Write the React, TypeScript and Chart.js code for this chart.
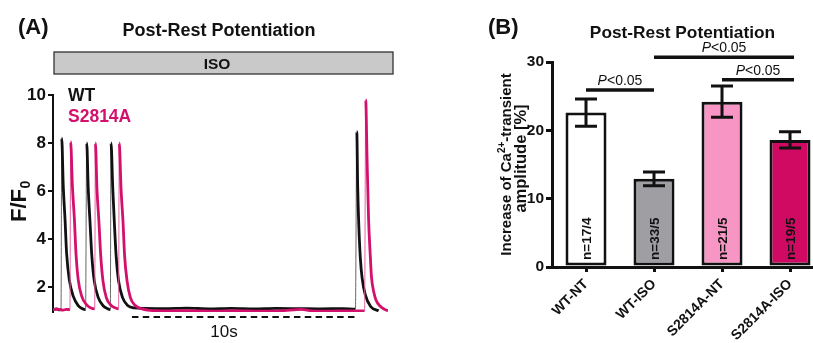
import React, { useEffect, useRef } from 'react';
import { Chart, registerables } from 'chart.js';

Chart.register(...registerables);

const FONT = "'Liberation Sans', Arial, Helvetica, sans-serif";
const MAGENTA = '#d3116c';

// ---------- Panel A: Ca2+ transients (time in s, F/F0) ----------
const WT_TIME = [
  0, 0.15, 0.3, 0.36,
  0.39, 0.46, 0.54, 0.61, 0.73, 0.91, 1.13, 1.3, 1.46,
  1.51, 1.58, 1.66, 1.74, 1.85, 2.03, 2.26, 2.42, 2.57,
  2.6, 2.68, 2.75, 2.83, 2.94, 3.12, 3.35, 3.65, 4.13,
  5.0, 6.0, 7.0, 8.0, 9.0, 10.0, 11.0, 12.0, 13.0, 13.56,
  13.62, 13.66, 13.71, 13.78, 13.86, 14.0, 14.24, 14.6,
];
const WT_RATIO = [
  1.05, 1.08, 1.04, 1.05,
  8.2, 6.2, 4.8, 3.4, 2.3, 1.6, 1.22, 1.1, 1.05,
  8.0, 6.1, 4.7, 3.3, 2.25, 1.55, 1.2, 1.1, 1.05,
  8.0, 6.1, 4.7, 3.3, 2.25, 1.55, 1.22, 1.12, 1.1,
  1.09, 1.11, 1.08, 1.1, 1.08, 1.1, 1.09, 1.08, 1.09, 1.07,
  8.47, 6.2, 4.6, 3.2, 2.36, 1.67, 1.18, 1.0,
];
const S2814A_TIME = [
  0, 0.2, 0.45, 0.6, 0.76,
  0.79, 0.87, 0.96, 1.03, 1.13, 1.29, 1.51, 1.7, 1.87,
  1.9, 1.97, 2.06, 2.14, 2.24, 2.39, 2.61, 2.8, 2.94,
  2.97, 3.05, 3.14, 3.21, 3.32, 3.47, 3.69, 3.99, 4.35,
  5.2, 6.2, 7.2, 8.2, 9.2, 10.2, 11.15, 11.6, 12.4, 13.2, 13.97,
  14.02, 14.08, 14.15, 14.22, 14.28, 14.39, 14.48, 14.66, 14.89, 15.02,
];
const S2814A_RATIO = [
  1.05, 1.07, 1.03, 1.06, 1.05,
  8.05, 6.2, 4.8, 3.4, 2.3, 1.6, 1.25, 1.12, 1.08,
  8.0, 6.1, 4.7, 3.3, 2.25, 1.55, 1.22, 1.12, 1.08,
  8.0, 6.1, 4.7, 3.3, 2.25, 1.55, 1.22, 1.08, 1.02,
  1.0, 1.01, 0.99, 1.01, 0.99, 1.0, 1.06, 1.0, 0.99, 1.0, 1.0,
  9.8, 7.4, 4.8, 3.4, 2.4, 1.75, 1.45, 1.2, 1.05, 1.0,
];
const A_Y_TICKS = [2, 4, 6, 8, 10];
const A_Y_MIN = 0.95;
const A_Y_MAX = 10;
const A_X_MAX = 15.02;
const SCALE_BAR_START = 3.54;
const SCALE_BAR_SECONDS = 10;

// ---------- Panel B: bar chart ----------
const GROUPS = ['WT-NT', 'WT-ISO', 'S2814A-NT', 'S2814A-ISO'];
const MEANS = [22.6, 12.9, 24.2, 18.6];
const SEMS = [2.0, 1.0, 2.3, 1.2];
const N_LABELS = ['n=17/4', 'n=33/5', 'n=21/5', 'n=19/5'];
const BAR_COLORS = ['#ffffff', '#9f9ea3', '#f796c4', '#d00a62'];
const B_Y_TICKS = [0, 10, 20, 30];
const SIG_FROM = [0, 1, 2];
const SIG_TO = [1, 3, 3];
const SIG_LEVEL = [25.9, 30.7, 27.4];

const toPoints = (xs: number[], ys: number[]) => xs.map((x, i) => ({ x, y: ys[i] }));

const panelAPlugin = {
  id: 'panelA',
  afterDraw(chart: any) {
    const { ctx, chartArea } = chart;
    const xs = chart.scales.x;
    ctx.save();
    ctx.fillStyle = '#111';
    ctx.textBaseline = 'alphabetic';
    ctx.textAlign = 'left';
    ctx.font = `bold 22px ${FONT}`;
    ctx.fillText('(A)', 18, 34);
    ctx.textAlign = 'center';
    ctx.font = `bold 18px ${FONT}`;
    ctx.fillText('Post-Rest Potentiation', 219, 36);
    // ISO box
    ctx.fillStyle = '#c9c9c9';
    ctx.fillRect(54, 52, 339, 22);
    ctx.lineWidth = 1.3;
    ctx.strokeStyle = '#333';
    ctx.strokeRect(54, 52, 339, 22);
    ctx.fillStyle = '#111';
    ctx.font = `bold 15.5px ${FONT}`;
    ctx.fillText('ISO', 217, 69);
    // legend
    ctx.textAlign = 'left';
    ctx.font = `bold 17.5px ${FONT}`;
    ctx.fillText('WT', 68, 101);
    ctx.fillStyle = MAGENTA;
    ctx.fillText('S2814A', 68, 121.5);
    // y title F/F0
    ctx.save();
    ctx.translate(25.5, 222);
    ctx.rotate(-Math.PI / 2);
    ctx.fillStyle = '#111';
    ctx.font = `bold 22px ${FONT}`;
    ctx.fillText('F/F', 0, 0);
    const w = ctx.measureText('F/F').width;
    ctx.font = `bold 14px ${FONT}`;
    ctx.fillText('0', w + 0.5, 4);
    ctx.restore();
    // scale bar
    const x1 = xs.getPixelForValue(SCALE_BAR_START);
    const x2 = xs.getPixelForValue(SCALE_BAR_START + SCALE_BAR_SECONDS);
    const yb = chartArea.bottom + 5;
    ctx.setLineDash([6.5, 4.3]);
    ctx.lineWidth = 2;
    ctx.strokeStyle = '#111';
    ctx.beginPath();
    ctx.moveTo(x1, yb);
    ctx.lineTo(x2, yb);
    ctx.stroke();
    ctx.setLineDash([]);
    ctx.fillStyle = '#111';
    ctx.textAlign = 'center';
    ctx.font = `17px ${FONT}`;
    ctx.fillText('10s', 224, 337);
    ctx.restore();
  },
};

function drawRuns(ctx: any, runs: [string, number, number][], cx: number, cy: number) {
  let total = 0;
  runs.forEach(([t, size]) => {
    ctx.font = `bold ${size}px ${FONT}`;
    total += ctx.measureText(t).width;
  });
  ctx.save();
  ctx.translate(cx, cy);
  ctx.rotate(-Math.PI / 2);
  let x = -total / 2;
  runs.forEach(([t, size, dy]) => {
    ctx.font = `bold ${size}px ${FONT}`;
    ctx.fillText(t, x, dy);
    x += ctx.measureText(t).width;
  });
  ctx.restore();
}

const panelBPlugin = {
  id: 'panelB',
  afterDatasetsDraw(chart: any) {
    const { ctx } = chart;
    const xs = chart.scales.x;
    const ys = chart.scales.y;
    ctx.save();
    ctx.fillStyle = '#111';
    ctx.font = `bold 13.5px ${FONT}`;
    ctx.textAlign = 'left';
    ctx.textBaseline = 'middle';
    N_LABELS.forEach((lab, i) => {
      const px = xs.getPixelForValue(i);
      ctx.save();
      ctx.translate(px + 1, ys.getPixelForValue(0) - 7);
      ctx.rotate(-Math.PI / 2);
      ctx.fillText(lab, 0, 0);
      ctx.restore();
    });
    ctx.strokeStyle = '#111';
    ctx.lineWidth = 3;
    MEANS.forEach((m, i) => {
      const px = xs.getPixelForValue(i);
      const yt = ys.getPixelForValue(m + SEMS[i]);
      const yb = ys.getPixelForValue(m - SEMS[i]);
      ctx.beginPath();
      ctx.moveTo(px, yt);
      ctx.lineTo(px, yb);
      ctx.moveTo(px - 11, yt);
      ctx.lineTo(px + 11, yt);
      ctx.moveTo(px - 11, yb);
      ctx.lineTo(px + 11, yb);
      ctx.stroke();
    });
    ctx.restore();
  },
  afterDraw(chart: any) {
    const { ctx } = chart;
    const xs = chart.scales.x;
    const ys = chart.scales.y;
    ctx.save();
    ctx.fillStyle = '#111';
    ctx.textBaseline = 'alphabetic';
    ctx.textAlign = 'left';
    ctx.font = `bold 22px ${FONT}`;
    ctx.fillText('(B)', 28, 34);
    ctx.textAlign = 'center';
    ctx.font = `bold 17.3px ${FONT}`;
    ctx.fillText('Post-Rest Potentiation', 222.5, 38);
    // significance bars
    ctx.strokeStyle = '#111';
    ctx.lineWidth = 3.5;
    SIG_FROM.forEach((from, k) => {
      const xa = xs.getPixelForValue(from);
      const xb = xs.getPixelForValue(SIG_TO[k]) + (SIG_TO[k] === 3 ? 4 : 0);
      const yy = ys.getPixelForValue(SIG_LEVEL[k]);
      ctx.beginPath();
      ctx.moveTo(xa, yy);
      ctx.lineTo(xb, yy);
      ctx.stroke();
      const mid = (xa + xb) / 2;
      ctx.font = `italic 14px ${FONT}`;
      const wp = ctx.measureText('P').width;
      ctx.font = `14px ${FONT}`;
      const wr = ctx.measureText('<0.05').width;
      const start = mid - (wp + wr) / 2;
      ctx.textAlign = 'left';
      ctx.font = `italic 14px ${FONT}`;
      ctx.fillText('P', start, yy - 5);
      ctx.font = `14px ${FONT}`;
      ctx.fillText('<0.05', start + wp, yy - 5);
    });
    // y title
    ctx.textAlign = 'left';
    const cy = (chart.chartArea.top + chart.chartArea.bottom) / 2;
    drawRuns(ctx, [['Increase of Ca', 15, 0], ['2+', 10, -6], ['-transient', 15, 0]], 51, cy);
    drawRuns(ctx, [['amplitude [%]', 16.5, 0]], 65.5, cy - 6);
    ctx.restore();
  },
};

export default function App() {
  const refA = useRef<HTMLCanvasElement>(null);
  const refB = useRef<HTMLCanvasElement>(null);

  useEffect(() => {
    const lw = 2.8;
    const chartA = new Chart(refA.current as HTMLCanvasElement, {
      type: 'line',
      data: {
        datasets: [
          {
            label: 'S2814A',
            data: toPoints(S2814A_TIME, S2814A_RATIO),
            borderColor: MAGENTA,
            borderWidth: lw,
            pointRadius: 0,
            cubicInterpolationMode: 'monotone',
            segment: {
              borderWidth: (c: any) => (c.p1.parsed.y - c.p0.parsed.y > 3 ? 1 : lw),
              borderColor: (c: any) => (c.p1.parsed.y - c.p0.parsed.y > 3 ? '#e3629f' : MAGENTA),
            },
          },
          {
            label: 'WT',
            data: toPoints(WT_TIME, WT_RATIO),
            borderColor: '#111111',
            borderWidth: lw,
            pointRadius: 0,
            cubicInterpolationMode: 'monotone',
            segment: {
              borderWidth: (c: any) => (c.p1.parsed.y - c.p0.parsed.y > 3 ? 1 : lw),
              borderColor: (c: any) => (c.p1.parsed.y - c.p0.parsed.y > 3 ? '#666666' : '#111111'),
            },
          },
        ],
      },
      options: {
        animation: false,
        responsive: false,
        events: [],
        layout: { padding: { left: 0, top: 95, right: 72, bottom: 31 } },
        plugins: { legend: { display: false }, tooltip: { enabled: false }, title: { display: false } },
        scales: {
          x: { type: 'linear', display: false, min: 0, max: A_X_MAX },
          y: {
            type: 'linear',
            min: A_Y_MIN,
            max: A_Y_MAX,
            afterFit: (s: any) => { s.width = 53; },
            afterBuildTicks: (s: any) => { s.ticks = A_Y_TICKS.map((v) => ({ value: v })); },
            grid: { drawOnChartArea: false, drawTicks: true, tickLength: 5, lineWidth: 2, color: '#111' },
            border: { display: true, width: 2, color: '#111' },
            ticks: { color: '#111', padding: 2, font: { family: FONT, size: 17, weight: 'bold' } },
          },
        },
      },
      plugins: [panelAPlugin],
    } as any);

    const chartB = new Chart(refB.current as HTMLCanvasElement, {
      type: 'bar',
      data: {
        datasets: [
          {
            data: MEANS.map((m, i) => ({ x: i, y: m })),
            backgroundColor: BAR_COLORS,
            borderColor: '#111',
            borderWidth: 3,
            borderSkipped: false,
            categoryPercentage: 1,
            barPercentage: 0.603,
          },
        ],
      },
      options: {
        animation: false,
        responsive: false,
        events: [],
        layout: { padding: { left: 0, top: 62, right: 0, bottom: 0 } },
        plugins: { legend: { display: false }, tooltip: { enabled: false }, title: { display: false } },
        scales: {
          x: {
            type: 'linear',
            min: -0.5,
            max: 3.338,
            offset: false,
            afterFit: (s: any) => { s.height = 76; },
            afterBuildTicks: (s: any) => { s.ticks = [0, 1, 2, 3].map((v) => ({ value: v })); },
            grid: { offset: false, drawOnChartArea: false, drawTicks: true, tickLength: 5, lineWidth: 3, color: '#111' },
            border: { display: true, width: 3, color: '#111' },
            ticks: {
              autoSkip: false,
              minRotation: 45,
              maxRotation: 45,
              padding: 4,
              color: '#111',
              font: { family: FONT, size: 14, weight: 'bold' },
              callback: (v: any) => GROUPS[Math.round(v)] ?? '',
            },
          },
          y: {
            type: 'linear',
            min: 0,
            max: 30,
            afterFit: (s: any) => { s.width = 92; },
            afterBuildTicks: (s: any) => { s.ticks = B_Y_TICKS.map((v) => ({ value: v })); },
            grid: { drawOnChartArea: false, drawTicks: true, tickLength: 6, lineWidth: 3, color: '#111' },
            border: { display: true, width: 3, color: '#111' },
            ticks: { color: '#111', padding: 2, font: { family: FONT, size: 15.5, weight: 'bold' } },
          },
        },
      },
      plugins: [panelBPlugin],
    } as any);

    return () => {
      chartA.destroy();
      chartB.destroy();
    };
  }, []);

  return (
    <div style={{ position: 'fixed', left: 0, top: 0, width: 813, height: 343, background: '#fff', overflow: 'hidden' }}>
      <canvas ref={refA} width={460} height={343} style={{ position: 'absolute', left: 0, top: 0, display: 'block' }} />
      <canvas ref={refB} width={353} height={343} style={{ position: 'absolute', left: 460, top: 0, display: 'block' }} />
    </div>
  );
}
